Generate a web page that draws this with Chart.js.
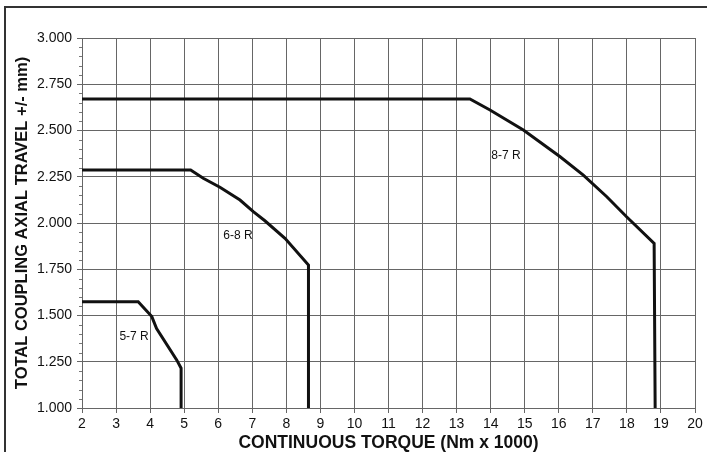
<!DOCTYPE html>
<html>
<head>
<meta charset="utf-8">
<script src="https://cdn.jsdelivr.net/npm/chart.js@4"></script>
<style>
    html, body { margin: 0; padding: 0; background: #fff; overflow: hidden; }
    #wrap { position: relative; width: 707px; height: 452px; }
    #frame { position: absolute; left: 4px; top: 6px; width: 800px; height: 600px;
             border-left: 2px solid #333; border-top: 2px solid #333; }
    #box { position: absolute; left: 0; top: 0; width: 707px; height: 452px; }
</style>
</head>
<body>
<div id="wrap">
    <div id="frame"></div>
    <div id="box"><canvas id="travelChart"></canvas></div>
</div>
<script>
// Curve data (torque in Nm x 1000, travel in mm)
const curve57X = [2, 3.65, 4.05, 4.19, 4.78, 4.91, 4.91];
const curve57Y = [1.575, 1.575, 1.494, 1.43, 1.26, 1.215, 1.0];

const curve68X = [2, 5.19, 5.56, 6.05, 6.64, 7.03, 7.37, 7.96, 8.65, 8.65];
const curve68Y = [2.286, 2.286, 2.242, 2.193, 2.124, 2.061, 2.012, 1.917, 1.773, 1.0];

const curve87X = [2, 13.39, 13.98, 14.96, 16.04, 16.72, 17.41, 17.99, 18.8, 18.83];
const curve87Y = [2.67, 2.67, 2.611, 2.503, 2.358, 2.259, 2.142, 2.034, 1.89, 1.0];

const curveNames = ['5-7 R', '6-8 R', '8-7 R'];
const labelX = [3.53, 6.58, 14.45];
const labelY = [1.384, 1.93, 2.362];

const xTitle = 'CONTINUOUS TORQUE (Nm x 1000)';
const yTitle = 'TOTAL COUPLING AXIAL TRAVEL +/- mm)';

function toPoints(xs, ys) {
    return xs.map((x, i) => ({ x: x, y: ys[i] }));
}

// curve names written inside the plot
const curveLabels = {
    id: 'curveLabels',
    afterDatasetsDraw(chart) {
        const ctx = chart.ctx;
        const xs = chart.scales.x, ys = chart.scales.y;
        ctx.save();
        ctx.fillStyle = '#111';
        ctx.font = '12px "Liberation Sans", Arial, sans-serif';
        ctx.textAlign = 'center';
        ctx.textBaseline = 'middle';
        curveNames.forEach((name, i) => {
            ctx.fillText(name, xs.getPixelForValue(labelX[i]), ys.getPixelForValue(labelY[i]));
        });
        ctx.restore();
    }
};

// small minor ticks on the y axis every 0.05
const minorTicks = {
    id: 'minorTicks',
    afterDraw(chart) {
        const ctx = chart.ctx;
        const ys = chart.scales.y;
        const left = chart.chartArea.left;
        ctx.save();
        ctx.strokeStyle = '#777';
        ctx.lineWidth = 1;
        for (let i = 1; i < 40; i++) {
            if (i % 5 === 0) continue;
            const py = Math.round(ys.getPixelForValue(1 + i * 0.05)) + 0.5;
            ctx.beginPath();
            ctx.moveTo(left - 3, py);
            ctx.lineTo(left, py);
            ctx.stroke();
        }
        ctx.restore();
    }
};

document.addEventListener('DOMContentLoaded', function() {
    const ctx = document.getElementById('travelChart');
    const lineStyle = {
        showLine: true,
        borderColor: '#111',
        borderWidth: 3,
        pointRadius: 0,
        tension: 0,
        fill: false
    };

    new Chart(ctx, {
        type: 'scatter',
        data: {
            datasets: [
                Object.assign({ label: curveNames[0], data: toPoints(curve57X, curve57Y) }, lineStyle),
                Object.assign({ label: curveNames[1], data: toPoints(curve68X, curve68Y) }, lineStyle),
                Object.assign({ label: curveNames[2], data: toPoints(curve87X, curve87Y) }, lineStyle)
            ]
        },
        options: {
            responsive: true,
            maintainAspectRatio: false,
            animation: false,
            layout: { padding: { left: 0, right: 12, top: 38, bottom: 0 } },
            scales: {
                x: {
                    type: 'linear',
                    min: 2,
                    max: 20,
                    ticks: {
                        stepSize: 1,
                        color: '#111',
                        padding: 3,
                        font: { family: '"Liberation Sans", Arial, sans-serif', size: 14 }
                    },
                    grid: { color: '#666', lineWidth: 1, tickLength: 5 },
                    border: { color: '#666' },
                    title: {
                        display: true,
                        text: xTitle,
                        color: '#111',
                        padding: 0,
                        font: { family: '"Liberation Sans", Arial, sans-serif', size: 17.5, weight: 'bold', lineHeight: 1.0 }
                    },
                    afterFit(scale) { scale.height = 44; }
                },
                y: {
                    type: 'linear',
                    min: 1,
                    max: 3,
                    ticks: {
                        stepSize: 0.25,
                        color: '#111',
                        padding: 5,
                        font: { family: '"Liberation Sans", Arial, sans-serif', size: 14 },
                        callback: v => v.toFixed(3)
                    },
                    grid: { color: '#666', lineWidth: 1, tickLength: 5 },
                    border: { color: '#666' },
                    title: {
                        display: true,
                        text: yTitle,
                        color: '#111',
                        padding: { top: 13, bottom: 0 },
                        font: { family: '"Liberation Sans", Arial, sans-serif', size: 16.5, weight: 'bold' }
                    },
                    afterFit(scale) { scale.width = 82; }
                }
            },
            plugins: {
                legend: { display: false },
                tooltip: { enabled: false }
            }
        },
        plugins: [curveLabels, minorTicks]
    });
});
</script>
</body>
</html>
